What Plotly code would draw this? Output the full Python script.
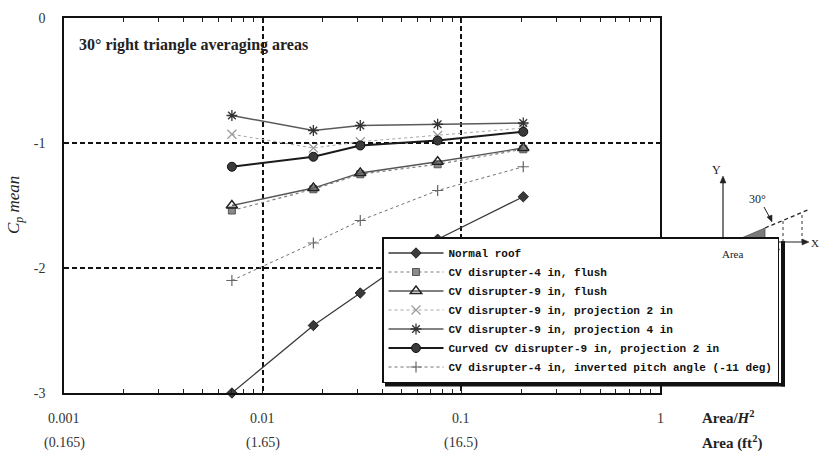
import math
import plotly.graph_objects as go

# ---- data ----
area_ratio = [0.007, 0.018, 0.031, 0.076, 0.205]
normal_roof = [-3.00, -2.46, -2.20, -1.77, -1.43]
cv4_flush = [-1.54, -1.37, -1.25, -1.17, -1.05]
cv9_flush = [-1.50, -1.36, -1.24, -1.15, -1.04]
cv9_proj2 = [-0.93, -1.04, -0.99, -0.94, -0.88]
cv9_proj4 = [-0.78, -0.90, -0.86, -0.85, -0.84]
curved_cv9_proj2 = [-1.19, -1.11, -1.02, -0.98, -0.91]
cv4_inverted = [-2.10, -1.80, -1.62, -1.38, -1.19]

x_tick_vals = [0.001, 0.01, 0.1, 1]
x_tick_row1 = ["0.001", "0.01", "0.1", "1"]
x_tick_row2 = ["(0.165)", "(1.65)", "(16.5)", ""]
y_tick_vals = [0, -1, -2, -3]
y_tick_text = ["0", "-1", "-2", "-3"]

# log minor tick positions (2..9 in every decade)
minor_vals = [m * 10.0 ** e for e in (-3, -2, -1) for m in range(2, 10)]

W, H = 820, 454
ML, MR, MT, MB = 64, 160, 18, 61
PW, PH = W - ML - MR, H - MT - MB


def px(X):
    return (X - ML) / PW


def py(Y):
    return (H - MB - Y) / PH


SERIF = "Liberation Serif"

series = [
    dict(name="Normal roof", y=normal_roof, line=dict(color="#3a3a3a", width=1.3, dash="solid"),
         marker=dict(symbol="diamond", size=8, color="#3a3a3a", line=dict(color="#222", width=1))),
    dict(name="CV disrupter-4 in, flush", y=cv4_flush, line=dict(color="#7a7a7a", width=1.1, dash="dot"),
         marker=dict(symbol="square", size=7, color="#8a8a8a", line=dict(color="#555", width=1))),
    dict(name="CV disrupter-9 in, flush", y=cv9_flush, line=dict(color="#555555", width=1.3, dash="solid"),
         marker=dict(symbol="triangle-up-open", size=10, color="#222", line=dict(color="#222", width=1.4))),
    dict(name="CV disrupter-9 in, projection 2 in", y=cv9_proj2, line=dict(color="#a8a8a8", width=1.1, dash="dot"),
         marker=dict(symbol="x-thin-open", size=9, color="#9a9a9a", line=dict(color="#9a9a9a", width=1.2))),
    dict(name="CV disrupter-9 in, projection 4 in", y=cv9_proj4, line=dict(color="#5a5a5a", width=1.4, dash="solid"),
         marker=dict(symbol="asterisk-open", size=9, color="#333", line=dict(color="#333", width=1.3))),
    dict(name="Curved CV disrupter-9 in, projection 2 in", y=curved_cv9_proj2, line=dict(color="#1a1a1a", width=2.0, dash="solid"),
         marker=dict(symbol="circle", size=9, color="#3a3a3a", line=dict(color="#111", width=1))),
    dict(name="CV disrupter-4 in, inverted pitch angle (-11 deg)", y=cv4_inverted, line=dict(color="#707070", width=1.0, dash="dot"),
         marker=dict(symbol="cross-thin-open", size=8, color="#666", line=dict(color="#666", width=1.2))),
]

fig = go.Figure()
for s in series:
    fig.add_trace(go.Scatter(x=area_ratio, y=s["y"], name=s["name"], mode="lines+markers",
                             line=s["line"], marker=s["marker"], cliponaxis=False))

grid_dash = "5px,3px"
fig.update_layout(
    width=W, height=H,
    margin=dict(l=ML, r=MR, t=MT, b=MB, pad=0),
    paper_bgcolor="white", plot_bgcolor="white",
    font=dict(family=SERIF, size=14, color="#333"),
    showlegend=True,
    xaxis=dict(type="log", range=[-3, 0], tickvals=x_tick_vals, showticklabels=False,
               ticks="inside", ticklen=4, tickwidth=1.2, tickcolor="#222",
               minor=dict(tickvals=minor_vals, ticks="inside", ticklen=4, tickwidth=1.1,
                          tickcolor="#222", showgrid=False),
               showgrid=True, gridcolor="#111", gridwidth=1.5, griddash=grid_dash,
               showline=True, linecolor="#111", linewidth=1.5, mirror="ticks", zeroline=False),
    yaxis=dict(range=[-3, 0], tickvals=y_tick_vals, ticktext=y_tick_text, ticks="", ticklabelstandoff=14,
               tickfont=dict(family=SERIF, size=14, color="#333"),
               showgrid=True, gridcolor="#111", gridwidth=1.5, griddash=grid_dash,
               showline=True, linecolor="#111", linewidth=1.5, mirror=True, zeroline=False),
    legend=dict(x=px(382), y=py(383), xanchor="left", yanchor="bottom",
                bgcolor="white", bordercolor="#111", borderwidth=1.5,
                font=dict(family="Liberation Mono", size=11, color="#111", weight="bold"),
                itemwidth=55, tracegroupgap=0, traceorder="normal"),
)

ann = []
for v, t1, t2 in zip(x_tick_vals, x_tick_row1, x_tick_row2):
    xpos = math.log10(v)
    ann.append(dict(x=xpos, xref="x", y=py(418), yref="paper", text=t1, showarrow=False,
                    font=dict(family=SERIF, size=14, color="#333"), xanchor="center", yanchor="middle"))
    if t2:
        ann.append(dict(x=xpos, xref="x", y=py(443), yref="paper", text=t2, showarrow=False,
                        font=dict(family=SERIF, size=14, color="#333"), xanchor="center", yanchor="middle"))

ann += [
    dict(x=px(700), y=py(417), xref="paper", yref="paper", xanchor="left", yanchor="middle",
         text="<b>Area/<i>H</i><sup>2</sup></b>", showarrow=False, font=dict(family=SERIF, size=15, color="#222")),
    dict(x=px(700), y=py(442), xref="paper", yref="paper", xanchor="left", yanchor="middle",
         text="<b>Area (ft<sup>2</sup>)</b>", showarrow=False, font=dict(family=SERIF, size=15, color="#222")),
    dict(x=px(15), y=py(205), xref="paper", yref="paper", xanchor="center", yanchor="middle",
         text="<i>C<sub>p</sub> mean</i>", textangle=-90, showarrow=False,
         font=dict(family=SERIF, size=17, color="#222")),
    dict(x=px(77), y=py(45), xref="paper", yref="paper", xanchor="left", yanchor="middle",
         text="<b>30° right triangle averaging areas</b>", showarrow=False,
         font=dict(family=SERIF, size=16, color="#222")),
    # inset diagram labels
    dict(x=px(723), y=py(170), xref="paper", yref="paper", text="Y", showarrow=False,
         font=dict(family=SERIF, size=12, color="#222")),
    dict(x=px(809), y=py(243), xref="paper", yref="paper", text="X", showarrow=False, xanchor="left",
         font=dict(family=SERIF, size=11, color="#222")),
    dict(x=px(768), y=py(199), xref="paper", yref="paper", text="30°", showarrow=False,
         font=dict(family=SERIF, size=12, color="#222")),
    dict(x=px(745), y=py(254), xref="paper", yref="paper", text="Area", showarrow=False,
         font=dict(family=SERIF, size=11, color="#222")),
]
fig.update_layout(annotations=ann)


def line_shape(x0, y0, x1, y1, width=1.2, dash="solid", color="#222"):
    return dict(type="line", xref="paper", yref="paper", x0=px(x0), y0=py(y0), x1=px(x1), y1=py(y1),
                line=dict(color=color, width=width, dash=dash), layer="above")


def tri_shape(pts, color="#222"):
    p = "M " + " L ".join(f"{px(a)},{py(b)}" for a, b in pts) + " Z"
    return dict(type="path", xref="paper", yref="paper", path=p, fillcolor=color,
                line=dict(color=color, width=0.5), layer="above")


shapes = [
    # legend shadow (bottom and right)
    dict(type="rect", xref="paper", yref="paper", x0=px(385), x1=px(785), y0=py(386.5), y1=py(383),
         fillcolor="#111", line=dict(width=0), layer="above"),
    dict(type="rect", xref="paper", yref="paper", x0=px(781), x1=px(785), y0=py(386.5), y1=py(241),
         fillcolor="#111", line=dict(width=0), layer="above"),
    # inset: axes with arrow heads
    line_shape(723, 181, 723, 242),
    tri_shape([(720, 183), (726, 183), (723, 176)]),
    line_shape(723, 242, 804, 242),
    tri_shape([(802, 239), (802, 245), (809, 242)]),
    # shaded triangle
    dict(type="path", xref="paper", yref="paper",
         path=f"M {px(732)},{py(242)} L {px(765)},{py(242)} L {px(765)},{py(228)} Z",
         fillcolor="#7a7a7a", line=dict(color="#555", width=0.8), layer="above"),
    # sloped dashed roof line
    line_shape(765, 228, 810, 209, width=1.3, dash="4px,3px"),
    # dotted verticals
    line_shape(783, 242, 783, 221, width=1, dash="dot", color="#333"),
    line_shape(802, 242, 802, 213, width=1, dash="dot", color="#333"),
    # 30 deg pointer
    line_shape(764, 207, 770, 218, width=1),
    tri_shape([(767, 217), (772, 215), (772, 222)]),
    # up arrow under the x axis
    line_shape(777, 261, 777, 249, width=1),
    tri_shape([(774.5, 250), (779.5, 250), (777, 245)]),
]
fig.update_layout(shapes=shapes)

fig.write_html("out.html")
